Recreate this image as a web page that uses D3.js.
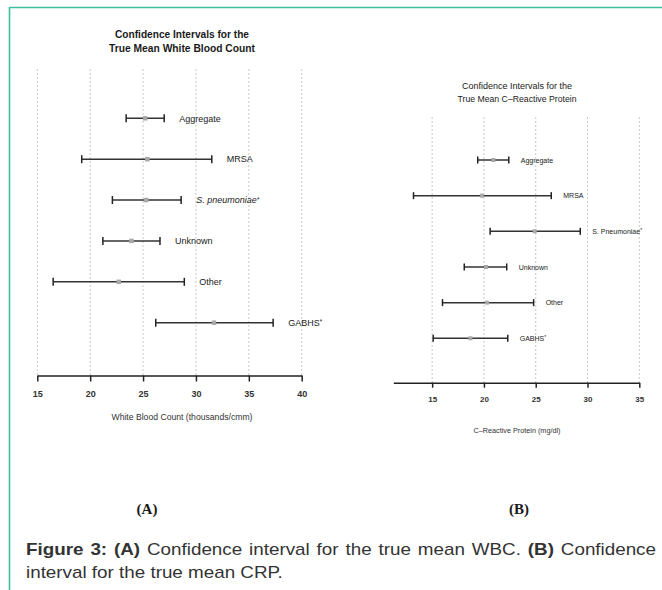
<!DOCTYPE html>
<html>
<head>
<meta charset="utf-8">
<script src="https://cdn.jsdelivr.net/npm/d3@7"></script>
<style>
  html, body { margin: 0; padding: 0; background: #fff; }
  svg { display: block; }
</style>
</head>
<body>
<svg id="fig" width="662" height="590"></svg>
<script>
// ---------- DATA ----------
const wbcCategories = ["Aggregate", "MRSA", "S. pneumoniae", "Unknown", "Other", "GABHS"];
const wbcStar   = [false, false, true, false, false, true];
const wbcItalic = [false, false, true, false, false, false];
const wbcLow  = [23.4, 19.2, 22.1, 21.2, 16.5, 26.2];
const wbcMean = [25.2, 25.4, 25.3, 23.9, 22.7, 31.7];
const wbcHigh = [27.0, 31.5, 28.6, 26.6, 28.9, 37.3];
const wbcTicks = [15, 20, 25, 30, 35, 40];

const crpCategories = ["Aggregate", "MRSA", "S. Pneumoniae", "Unknown", "Other", "GABHS"];
const crpStar   = [false, false, true, false, false, true];
const crpItalic = [false, false, false, false, false, false];
const crpLow  = [19.4, 13.2, 20.6, 18.1, 16.0, 15.1];
const crpMean = [20.9, 19.8, 24.9, 20.2, 20.3, 18.7];
const crpHigh = [22.4, 26.5, 29.3, 22.2, 24.8, 22.3];
const crpTicks = [15, 20, 25, 30, 35];

const titleA = ["Confidence Intervals for the", "True Mean White Blood Count"];
const titleB = ["Confidence Intervals for the", "True Mean C\u2013Reactive Protein"];
const xLabelA = "White Blood Count (thousands/cmm)";
const xLabelB = "C\u2013Reactive Protein (mg/dl)";

// ---------- DRAW ----------
const svg = d3.select("#fig");
const FONT = "'Liberation Sans', Arial, sans-serif";

// teal frame
svg.append("path")
  .attr("d", "M9.5,590V7.5H662")
  .attr("fill", "none")
  .attr("stroke", "#3dbf9f")
  .attr("stroke-width", 1.6);

function panel(cfg) {
  const g = svg.append("g");
  const x = d3.scaleLinear().domain(cfg.xDomain).range(cfg.xRange);
  const y = d3.scaleLinear().domain([0, cfg.cats.length - 1]).range(cfg.yRange);

  // gridlines
  g.selectAll("line.grid").data(cfg.ticks).join("line")
    .attr("class", "grid")
    .attr("x1", d => x(d)).attr("x2", d => x(d))
    .attr("y1", cfg.gridTop).attr("y2", cfg.axisY)
    .attr("stroke", "#c8c8c8")
    .attr("stroke-width", 1)
    .attr("stroke-dasharray", "2,2");

  // axis
  const axis = d3.axisBottom(x).tickValues(cfg.ticks).tickSizeOuter(0)
    .tickSizeInner(cfg.tickSize).tickPadding(cfg.tickPad).tickFormat(d3.format("d"));
  const ag = g.append("g").attr("transform", `translate(0,${cfg.axisY})`).call(axis);
  ag.select(".domain").attr("stroke", "#222").attr("stroke-width", 1.5);
  ag.selectAll(".tick line").attr("stroke", "#222").attr("stroke-width", 1.5);
  ag.selectAll(".tick text")
    .attr("font-family", FONT).attr("font-size", cfg.tickFs)
    .attr("font-weight", "bold").attr("fill", "#333");

  // error bars
  const rows = cfg.cats.map((c, i) => ({c, i, lo: cfg.lo[i], m: cfg.mean[i], hi: cfg.hi[i], star: cfg.star[i], it: cfg.italic[i]}));
  const rg = g.selectAll("g.row").data(rows).join("g").attr("class", "row");
  rg.append("line")
    .attr("x1", d => x(d.lo)).attr("x2", d => x(d.hi))
    .attr("y1", d => y(d.i)).attr("y2", d => y(d.i))
    .attr("stroke", "#333").attr("stroke-width", 1.5);
  ["lo", "hi"].forEach(k => {
    rg.append("line")
      .attr("x1", d => x(d[k])).attr("x2", d => x(d[k]))
      .attr("y1", d => y(d.i) - cfg.cap).attr("y2", d => y(d.i) + cfg.cap)
      .attr("stroke", "#222").attr("stroke-width", 1.5);
  });
  rg.append("rect")
    .attr("x", d => x(d.m) - cfg.pt / 2).attr("y", d => y(d.i) - cfg.pt / 2)
    .attr("width", cfg.pt).attr("height", cfg.pt)
    .attr("fill", "#a8a8a8");
  const lt = rg.append("text")
    .attr("x", d => x(d.hi) + cfg.labelOff)
    .attr("y", d => y(d.i) + cfg.labelFs * 0.36)
    .attr("font-family", FONT).attr("font-size", cfg.labelFs)
    .attr("fill", "#222")
    .attr("font-style", d => d.it ? "italic" : "normal");
  lt.append("tspan").text(d => d.c);
  lt.filter(d => d.star).append("tspan")
    .attr("font-size", cfg.labelFs * 0.7).attr("dy", -cfg.labelFs * 0.2).text("*");

  // titles
  cfg.title.forEach((t, k) => {
    g.append("text")
      .attr("x", cfg.titleX).attr("y", cfg.titleY[k])
      .attr("text-anchor", "middle")
      .attr("font-family", FONT).attr("font-size", cfg.titleFs)
      .attr("font-weight", cfg.titleWeight).attr("fill", "#1a1a1a")
      .attr("textLength", cfg.titleW[k]).attr("lengthAdjust", "spacingAndGlyphs")
      .text(t);
  });
  g.append("text")
    .attr("x", cfg.titleX).attr("y", cfg.xLabY)
    .attr("text-anchor", "middle")
    .attr("font-family", FONT).attr("font-size", cfg.xLabFs)
    .attr("fill", "#333")
    .attr("textLength", cfg.xLabW).attr("lengthAdjust", "spacingAndGlyphs")
    .text(cfg.xLabel);
}

panel({
  cats: wbcCategories, lo: wbcLow, mean: wbcMean, hi: wbcHigh, star: wbcStar, italic: wbcItalic, ticks: wbcTicks,
  xDomain: [15, 40], xRange: [37.3, 301.7], yRange: [118.3, 322.7],
  axisY: 375.5, gridTop: 69, tickSize: 6, tickPad: 9, tickFs: 9,
  cap: 4, pt: 4.5, labelOff: 15, labelFs: 9,
  title: titleA, titleX: 182, titleY: [38.3, 52.3], titleFs: 11, titleWeight: "bold", titleW: [134, 146],
  xLabel: xLabelA, xLabY: 420, xLabFs: 9, xLabW: 141
});

panel({
  cats: crpCategories, lo: crpLow, mean: crpMean, hi: crpHigh, star: crpStar, italic: crpItalic, ticks: crpTicks,
  xDomain: [11.25, 35], xRange: [393.3, 639.3], yRange: [160, 338.3],
  axisY: 382.7, gridTop: 117, tickSize: 5, tickPad: 8.5, tickFs: 8,
  cap: 3.5, pt: 4, labelOff: 12, labelFs: 7,
  title: titleB, titleX: 517, titleY: [89.3, 102.3], titleFs: 8.5, titleWeight: "normal", titleW: [110, 119],
  xLabel: xLabelB, xLabY: 432.7, xLabFs: 7.5, xLabW: 87
});

// panel letters
[["(A)", 147], ["(B)", 519]].forEach(([t, cx]) => {
  svg.append("text").attr("x", cx).attr("y", 514)
    .attr("text-anchor", "middle")
    .attr("font-family", "'Liberation Serif', 'Times New Roman', serif")
    .attr("font-size", 15).attr("font-weight", "bold").attr("fill", "#1a1a1a")
    .text(t);
});

// caption
const capLines = [
  [["Figure 3: ", true], ["(A)", true], [" Confidence interval for the true mean WBC. ", false], ["(B)", true], [" Confidence", false]],
  [["interval for the true mean CRP.", false]]
];
const capY = [555, 578.5];
const capG = svg.append("g");
const capTexts = capLines.map((parts, li) => {
  const t = capG.append("text").attr("x", 0).attr("y", capY[li])
    .attr("font-family", FONT).attr("font-size", 17).attr("fill", "#333");
  parts.forEach(([s, b]) => t.append("tspan").attr("font-weight", b ? "bold" : "normal").text(s));
  return t;
});
// horizontal scale so that line 2 spans like the reference
const w2 = capTexts[1].node().getComputedTextLength();
const sx = (283 - 26) / w2;
capG.attr("transform", `translate(26,0) scale(${sx},1)`);
// justify line 1 to span 26..656
const w1 = capTexts[0].node().getComputedTextLength();
const spaces1 = capLines[0].map(p => p[0]).join("").split(" ").length - 1;
const target1 = (656 - 26) / sx;
capTexts[0].attr("word-spacing", Math.max(0, (target1 - w1) / spaces1) + "px");
</script>
</body>
</html>
